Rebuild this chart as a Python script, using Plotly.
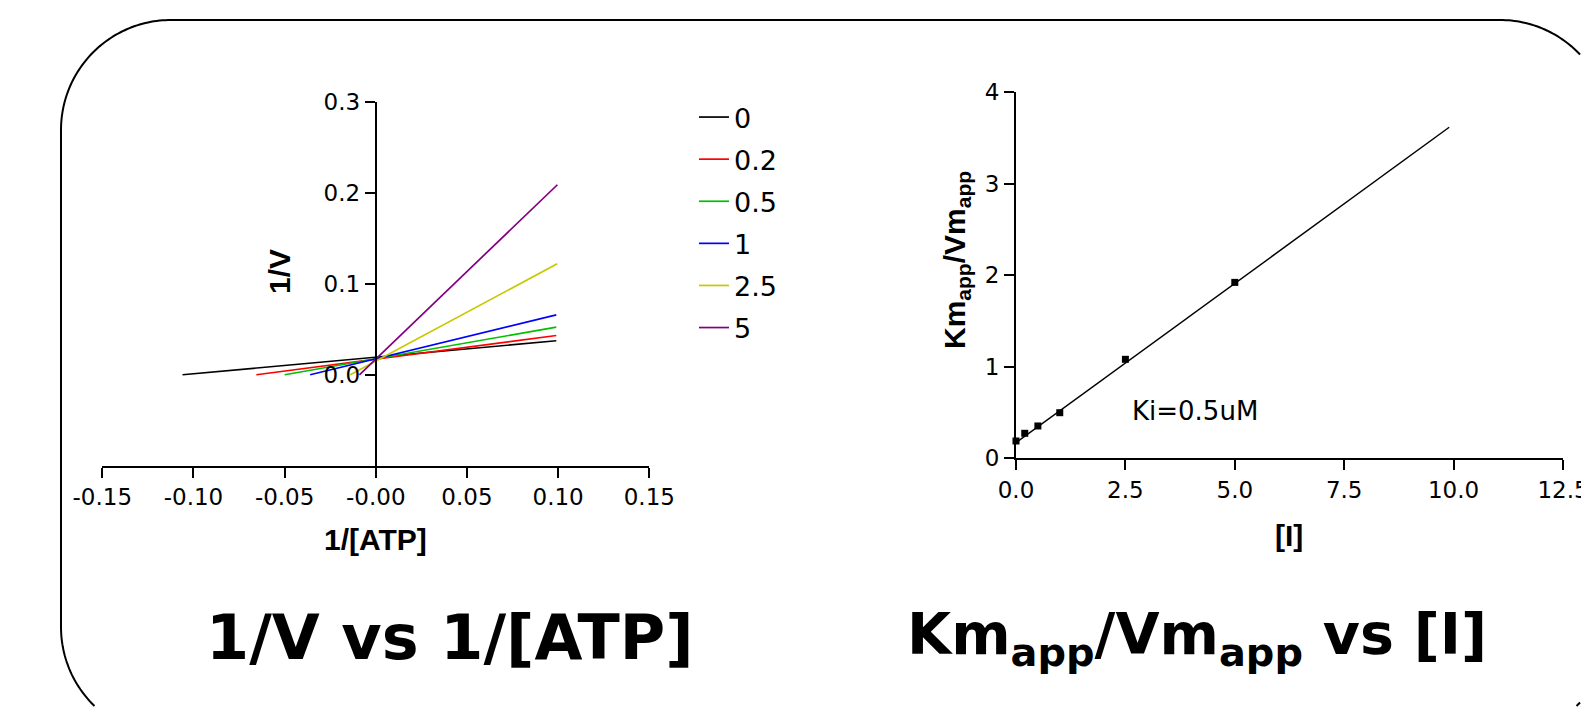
import math
import plotly.graph_objects as go

W, H = 1581, 707

# ---------------- data: 1/V vs 1/[ATP] (Lineweaver-Burk lines) ----------------
inhibitor_labels = ["0", "0.2", "0.5", "1", "2.5", "5"]
line_colors = ["#000000", "#ff0000", "#00c000", "#0000ff", "#c8c800", "#800080"]
inv_atp_start = [-0.106, -0.0655, -0.050, -0.036, -0.014, -0.0090]
inv_atp_end = [0.099, 0.099, 0.099, 0.099, 0.0995, 0.0996]
inv_v_start = [0.0, 0.0, 0.0, 0.0, 0.0, 0.0]
inv_v_end = [0.0374, 0.0432, 0.0524, 0.0659, 0.122, 0.209]

left_xticks = [-0.15, -0.10, -0.05, 0.0, 0.05, 0.10, 0.15]
left_xticktext = ["-0.15", "-0.10", "-0.05", "-0.00", "0.05", "0.10", "0.15"]
left_yticks = [0.0, 0.1, 0.2, 0.3]
left_yticktext = ["0.0", "0.1", "0.2", "0.3"]

# ---------------- data: Km_app/Vm_app vs [I] ----------------
inhibitor_conc = [0, 0.2, 0.5, 1, 2.5, 5]
km_over_vm = [0.189, 0.273, 0.353, 0.498, 1.081, 1.921]
fit_conc = [0.0, 9.9]
fit_ratio = [0.17, 3.615]

right_xticks = [0, 2.5, 5.0, 7.5, 10.0, 12.5]
right_xticktext = ["0.0", "2.5", "5.0", "7.5", "10.0", "12.5"]
right_yticks = [0, 1, 2, 3, 4]
right_yticktext = ["0", "1", "2", "3", "4"]


def px(x):
    return x / W


def py(y):
    return 1 - y / H


fig = go.Figure()

for lab, col, xs, xe, ys, ye in zip(inhibitor_labels, line_colors, inv_atp_start,
                                    inv_atp_end, inv_v_start, inv_v_end):
    fig.add_trace(go.Scatter(
        x=[xs, xe], y=[ys, ye], mode="lines", name=lab, legendgroup=lab,
        line=dict(color=col, width=1.7), xaxis="x", yaxis="y"))

fig.add_trace(go.Scatter(
    x=fit_conc, y=fit_ratio, mode="lines", showlegend=False,
    line=dict(color="black", width=1.5), xaxis="x2", yaxis="y2"))
fig.add_trace(go.Scatter(
    x=inhibitor_conc, y=km_over_vm, mode="markers", showlegend=False,
    marker=dict(symbol="square", size=7, color="black"), cliponaxis=False,
    xaxis="x2", yaxis="y2"))

tickfont = dict(family="DejaVu Sans", size=23, color="black")
axcommon = dict(showline=True, linecolor="black", linewidth=2, ticks="outside",
                ticklen=10, tickwidth=2, tickcolor="black", showgrid=False,
                zeroline=False, tickfont=tickfont, ticklabeloverflow="allow",
                automargin=False)

# ---------------- rounded border, clipped to the visible page ----------------
L, T, R, B, r = 61, 20, 1610, 737, 110
pts = []


def arc(cx, cy, a0, a1):
    n = 60
    for i in range(n + 1):
        a = math.radians(a0 + (a1 - a0) * i / n)
        pts.append((cx + r * math.cos(a), cy + r * math.sin(a)))


arc(L + r, T + r, 180, 270)        # top-left
arc(R - r, T + r, 270, 360)        # top-right
arc(R - r, B - r, 0, 90)           # bottom-right
arc(L + r, B - r, 90, 180)         # bottom-left
pts.append(pts[0])

XMIN, YMIN, XMAX, YMAX = 1.0, 1.0, W - 1.0, H - 1.0


def clip(p, q):
    x0, y0 = p
    dx, dy = q[0] - x0, q[1] - y0
    t0, t1 = 0.0, 1.0
    for pp, qq in ((-dx, x0 - XMIN), (dx, XMAX - x0), (-dy, y0 - YMIN), (dy, YMAX - y0)):
        if pp == 0:
            if qq < 0:
                return None
        else:
            t = qq / pp
            if pp < 0:
                t0 = max(t0, t)
            else:
                t1 = min(t1, t)
    if t0 > t1:
        return None
    return (x0 + t0 * dx, y0 + t0 * dy), (x0 + t1 * dx, y0 + t1 * dy)


runs = []
cur = None
for a, b in zip(pts[:-1], pts[1:]):
    c = clip(a, b)
    if c is None:
        cur = None
        continue
    s, e = c
    if cur is not None and abs(cur[-1][0] - s[0]) < 1e-6 and abs(cur[-1][1] - s[1]) < 1e-6:
        cur.append(e)
    else:
        cur = [s, e]
        runs.append(cur)

if len(runs) > 1 and abs(runs[-1][-1][0] - runs[0][0][0]) < 1e-6 and \
        abs(runs[-1][-1][1] - runs[0][0][1]) < 1e-6:
    runs[0] = runs[-1] + runs[0][1:]
    runs.pop()

border_path = " ".join(
    "M " + " L ".join(f"{px(x):.5f},{py(y):.5f}" for x, y in run) for run in runs)

title_font = dict(family="Liberation Sans", size=30, color="black", weight="bold")
big_font = dict(family="DejaVu Sans", size=62, color="black", weight="bold")
big_font2 = dict(family="DejaVu Sans", size=57, color="black", weight="bold")

annotations = [
    dict(text="1/V", x=px(279), y=py(272), textangle=-90, font=title_font),
    dict(text="1/[ATP]", x=px(375), y=py(539), font=title_font),
    dict(text="Km<sub>app</sub>/Vm<sub>app</sub>", x=px(956), y=py(260),
         textangle=-90, font=title_font),
    dict(text="[I]", x=px(1289), y=py(535), font=title_font),
    dict(text="Ki=0.5uM", x=px(1195), y=py(411),
         font=dict(family="DejaVu Sans", size=26, color="black")),
    dict(text="1/V vs 1/[ATP]", x=px(450), y=py(637), font=big_font),
    dict(text="Km<sub>app</sub>/Vm<sub>app</sub> vs [I]", x=px(1197), y=py(638),
         font=big_font2),
]
for a in annotations:
    a.update(xref="paper", yref="paper", showarrow=False,
             xanchor="center", yanchor="middle")

fig.update_layout(
    width=W, height=H, autosize=False,
    margin=dict(l=0, r=0, t=0, b=0, pad=0, autoexpand=False),
    paper_bgcolor="white", plot_bgcolor="rgba(0,0,0,0)",
    showlegend=True,
    legend=dict(x=px(694), y=py(93), xanchor="left", yanchor="top",
                font=dict(family="DejaVu Sans", size=27, color="black"),
                bgcolor="rgba(0,0,0,0)", borderwidth=0, tracegroupgap=4,
                traceorder="grouped"),
    xaxis=dict(domain=[px(102.3), px(649.3)], range=[-0.15, 0.15],
               tickvals=left_xticks, ticktext=left_xticktext, anchor="y",
               **axcommon),
    yaxis=dict(domain=[py(465.7), py(102)], range=[-0.1, 0.3],
               tickvals=left_yticks, ticktext=left_yticktext, anchor="free",
               position=px(375.7), **axcommon),
    xaxis2=dict(domain=[px(1016), px(1563)], range=[0, 12.5],
                tickvals=right_xticks, ticktext=right_xticktext, anchor="y2",
                **axcommon),
    yaxis2=dict(domain=[py(458.3), py(92)], range=[0, 4],
                tickvals=right_yticks, ticktext=right_yticktext, anchor="x2",
                **axcommon),
    shapes=[dict(type="path", path=border_path, xref="paper", yref="paper",
                 line=dict(color="black", width=2), layer="above")],
    annotations=annotations,
)

post = ("document.documentElement.style.margin='0';"
        "document.documentElement.style.padding='0';"
        "document.documentElement.style.overflow='hidden';"
        "document.body.style.margin='0';"
        "document.body.style.padding='0';"
        "document.body.style.overflow='hidden';")

fig.write_html("out.html", post_script=post,
               config={"displayModeBar": False})
